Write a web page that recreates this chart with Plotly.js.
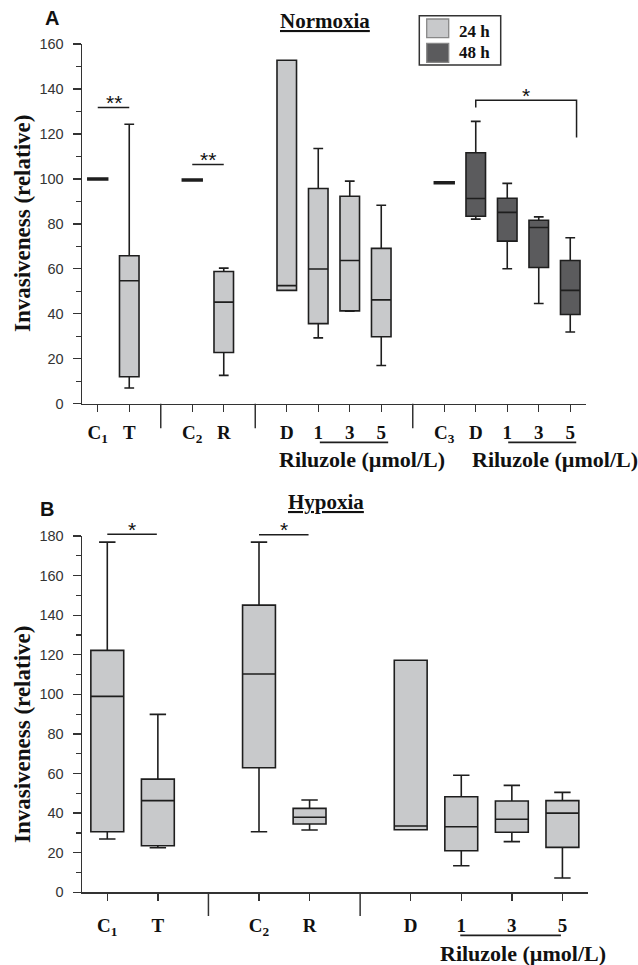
<!DOCTYPE html>
<html><head><meta charset="utf-8">
<script src="https://cdn.plot.ly/plotly-3.0.1.min.js"></script>
<style>html,body{margin:0;padding:0;background:#fff}#chart{width:638px;height:965px}</style>
</head><body><div id="chart"></div>
<script>
// ---------- categories (null = group separator) ----------
const slotsA = ['C<sub>1</sub>','T',null,'C<sub>2</sub>','R',null,'D','1','3','5',null,'C<sub>3</sub>','D','1','3','5'];
const slotsB = ['C<sub>1</sub>','T',null,'C<sub>2</sub>','R',null,'D','1','3','5'];

// ---------- Panel A (Normoxia) ----------
const ctrlA_slots = [0, 3, 11];
const ctrlA_vals  = [100, 99.5, 98.3];

const h24A_slots = [1, 4, 6, 7, 8, 9];
const h24A_low   = [7, 12.6, 50.4, 29.3, 41.1, 17];
const h24A_q1    = [12, 22.8, 50.4, 35.6, 41.3, 29.8];
const h24A_med   = [54.7, 45.2, 52.5, 59.9, 63.7, 46.2];
const h24A_q3    = [65.8, 58.8, 152.8, 95.7, 92.3, 69.1];
const h24A_high  = [124.3, 60.3, 152.8, 113.5, 99, 88.3];

const h48A_slots = [12, 13, 14, 15];
const h48A_low   = [82.1, 60, 44.6, 31.9];
const h48A_q1    = [83.4, 72.3, 60.6, 39.7];
const h48A_med   = [91.3, 85.1, 78.4, 50.4];
const h48A_q3    = [111.6, 91.4, 81.6, 63.7];
const h48A_high  = [125.6, 98, 83.1, 73.8];

// ---------- Panel B (Hypoxia) ----------
const h24B_slots = [0, 1, 3, 4, 6, 7, 8, 9];
const h24B_low   = [26.9, 22.5, 30.6, 31.5, 31.6, 13.4, 25.6, 7.2];
const h24B_q1    = [30.6, 23.5, 62.9, 34.5, 31.6, 21, 30.3, 22.7];
const h24B_med   = [99, 46.3, 110.3, 37.9, 33.5, 33.1, 36.9, 40];
const h24B_q3    = [122.2, 57.2, 145.1, 42.4, 117.2, 48.3, 46.1, 46.3];
const h24B_high  = [176.9, 89.9, 176.9, 46.6, 117.2, 59.1, 54, 50.5];

// significance marks: [fromSlot, toSlot, level, label]
const sigA = [[0, 1, 131.7, '**'], [3, 4, 106.4, '**']];
const bracketA = {from: 12, to: 15.2, top: 135, leftEnd: 131.8, rightEnd: 118.4, label: '*'};
const sigB = [[0, 0.98, 180.9, '*'], [3, 3.98, 180.6, '*']];

const seriesNames = ['24 h', '48 h'];
const yRangeA = [0, 160], yRangeB = [0, 180];

// ---------- styling ----------
const LIGHT = '#c8c9cb', DARK = '#5b5b5d', LINE = '#1e1e1e', AX = '#333';
const domXA = [82/638, 586/638], domYA = [1-403.7/965, 1-44/965];
const domXB = [82/638, 587.7/638], domYB = [1-892.3/965, 1-536/965];
const serif = 'Liberation Serif, Times New Roman, serif';
const sans = 'Liberation Sans, Arial, sans-serif';

function boxTrace(xa, ya, slots, lo, q1, med, q3, hi, fill, width, lw) {
  return {type: 'box', xaxis: xa, yaxis: ya, x: slots, lowerfence: lo, q1: q1, median: med,
    q3: q3, upperfence: hi, fillcolor: fill, width: width, whiskerwidth: 0.5,
    line: {color: LINE, width: lw}, boxpoints: false, showlegend: false, hoverinfo: 'skip'};
}
const traces = [
  boxTrace('x', 'y', ctrlA_slots, ctrlA_vals, ctrlA_vals, ctrlA_vals, ctrlA_vals, ctrlA_vals, '#111', 0.68, 3.5),
  boxTrace('x', 'y', h24A_slots, h24A_low, h24A_q1, h24A_med, h24A_q3, h24A_high, LIGHT, 0.62, 1.6),
  boxTrace('x', 'y', h48A_slots, h48A_low, h48A_q1, h48A_med, h48A_q3, h48A_high, DARK, 0.62, 1.6),
  boxTrace('x2', 'y2', h24B_slots, h24B_low, h24B_q1, h24B_med, h24B_q3, h24B_high, LIGHT, 0.65, 1.6)
];

function tickInfo(slots) {
  const vals = [], txt = [], seps = [];
  slots.forEach((s, i) => { if (s === null) seps.push(i); else { vals.push(i); txt.push(s); } });
  return {vals, txt, seps};
}
const tA = tickInfo(slotsA), tB = tickInfo(slotsB);

function xAxis(dom, n, t, anchor, standoff) {
  return {domain: dom, range: [-0.5, n - 0.5], anchor: anchor, showline: true, linecolor: AX, linewidth: 1.5,
    ticks: 'outside', ticklen: 7, tickwidth: 1.3, tickcolor: AX, tickvals: t.vals, ticktext: t.txt,
    tickfont: {family: serif, size: 19, color: '#111', weight: 'bold'}, ticklabelstandoff: standoff,
    showgrid: false, zeroline: false, fixedrange: true};
}
function yAxis(dom, range, anchor) {
  return {domain: dom, range: range, anchor: anchor, showline: true, linecolor: AX, linewidth: 1.5,
    ticks: 'outside', ticklen: 8, tickwidth: 1.3, tickcolor: AX, dtick: 20, tick0: 0,
    tickfont: {family: sans, size: 14.5, color: '#333'}, ticklabelstandoff: 6,
    minor: {dtick: 10, ticks: 'outside', ticklen: 4.5, tickwidth: 1.3, tickcolor: AX},
    showgrid: false, zeroline: false, fixedrange: true};
}

function paperY(v, dom, range) { return dom[0] + (v - range[0]) / (range[1] - range[0]) * (dom[1] - dom[0]); }

const shapes = [], annotations = [];
// group separators (long ticks)
tA.seps.forEach(s => shapes.push({type: 'line', xref: 'x', yref: 'paper', x0: s, x1: s,
  y0: domYA[0], y1: domYA[0] - 24.6/965, line: {color: AX, width: 1.5}}));
tB.seps.forEach(s => shapes.push({type: 'line', xref: 'x2', yref: 'paper', x0: s, x1: s,
  y0: domYB[0], y1: domYB[0] - 23.7/965, line: {color: AX, width: 1.5}}));

const starFont = {family: sans, size: 21, color: '#111'};
// significance bars
function sig(list, xref, dom, range) {
  list.forEach(([a, b, lvl, lab]) => {
    const y = paperY(lvl, dom, range);
    shapes.push({type: 'line', xref: xref, yref: 'paper', x0: a, x1: b, y0: y, y1: y, line: {color: LINE, width: 1.5}});
    annotations.push({xref: xref, yref: 'paper', x: (a + b) / 2, y: y, yanchor: 'middle', yshift: 5, text: lab,
      showarrow: false, font: starFont});
  });
}
sig(sigA, 'x', domYA, yRangeA);
sig(sigB, 'x2', domYB, yRangeB);
{
  const b = bracketA, yt = paperY(b.top, domYA, yRangeA);
  shapes.push({type: 'path', xref: 'x', yref: 'paper',
    path: `M ${b.from} ${paperY(b.leftEnd, domYA, yRangeA)} L ${b.from} ${yt} L ${b.to} ${yt} L ${b.to} ${paperY(b.rightEnd, domYA, yRangeA)}`,
    line: {color: LINE, width: 1.5}});
  annotations.push({xref: 'x', yref: 'paper', x: (b.from + b.to) / 2, y: yt, yanchor: 'middle', yshift: 5,
    text: b.label, showarrow: false, font: starFont});
}

// Riluzole underlines + labels
function riluzole(xref, x0, x1, textX, lineY, textY) {
  shapes.push({type: 'line', xref: xref, yref: 'paper', x0: x0, x1: x1, y0: lineY, y1: lineY, line: {color: LINE, width: 1.8}});
  annotations.push({xref: xref, yref: 'paper', x: textX, y: textY, yanchor: 'middle', text: 'Riluzole (µmol/L)',
    showarrow: false, font: {family: serif, size: 22, color: '#111', weight: 'bold'}});
}
riluzole('x', 7.05, 9.22, 8.4, 1-442.3/965, 1-460/965);
riluzole('x', 13.03, 15.19, 14.5, 1-442.3/965, 1-460/965);
riluzole('x2', 6.98, 8.97, 8.22, 1-935.3/965, 1-953/965);

// titles, panel letters, y titles
const ann = (x, y, text, font, extra) => annotations.push(Object.assign({xref: 'paper', yref: 'paper', x: x/638, y: 1 - y/965,
  text: text, showarrow: false, font: font, xanchor: 'center', yanchor: 'middle'}, extra || {}));
ann(325, 21, '<u>Normoxia</u>', {family: serif, size: 21, color: '#111', weight: 'bold'});
ann(325.5, 502, '<u>Hypoxia</u>', {family: serif, size: 21, color: '#111', weight: 'bold'});
ann(52, 18, 'A', {family: sans, size: 20, color: '#111', weight: 'bold'});
ann(47, 509, 'B', {family: sans, size: 20, color: '#111', weight: 'bold'});
ann(22, 224, 'Invasiveness (relative)', {family: serif, size: 23, color: '#111', weight: 'bold'}, {textangle: -90});
ann(22, 735, 'Invasiveness (relative)', {family: serif, size: 23, color: '#111', weight: 'bold'}, {textangle: -90});

// legend (drawn manually)
shapes.push({type: 'rect', xref: 'paper', yref: 'paper', x0: 419.3/638, x1: 500.7/638, y0: 1-65/965, y1: 1-15.7/965,
  line: {color: '#333', width: 1.5}, fillcolor: '#fff'});
[[LIGHT, 19, 37.7, 31.7], [DARK, 43.3, 62.3, 52.7]].forEach(([c, a, b, m], i) => {
  shapes.push({type: 'rect', xref: 'paper', yref: 'paper', x0: 426.7/638, x1: 448.7/638, y0: 1-b/965, y1: 1-a/965,
    line: {color: '#888', width: 1.3}, fillcolor: c});
  annotations.push({xref: 'paper', yref: 'paper', x: 457/638, y: 1-m/965, xanchor: 'left', yanchor: 'middle',
    text: seriesNames[i], showarrow: false, font: {family: serif, size: 17, color: '#111', weight: 'bold'}});
});

const layout = {
  width: 638, height: 965, margin: {l: 0, r: 0, t: 0, b: 0}, paper_bgcolor: '#fff', plot_bgcolor: 'rgba(0,0,0,0)',
  showlegend: false, boxmode: 'overlay',
  xaxis: xAxis(domXA, slotsA.length, tA, 'y', 4),
  yaxis: yAxis(domYA, yRangeA, 'x'),
  xaxis2: xAxis(domXB, slotsB.length, tB, 'y2', 8),
  yaxis2: yAxis(domYB, yRangeB, 'x2'),
  shapes: shapes, annotations: annotations
};
Plotly.newPlot('chart', traces, layout, {staticPlot: true, displayModeBar: false});
</script></body></html>
